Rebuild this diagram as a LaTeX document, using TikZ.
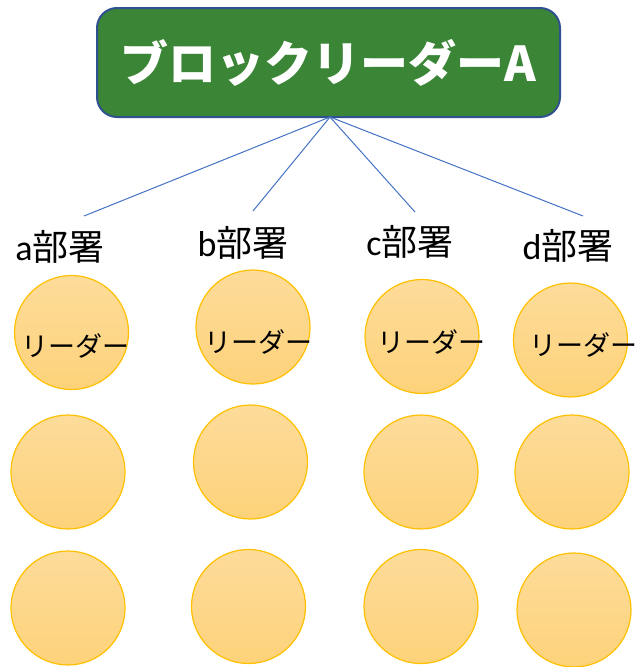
\documentclass[tikz,border=0pt]{standalone}
\usepackage{fontspec}
\newfontfamily\jp{Noto Sans CJK JP}
\newfontfamily\lat{Carlito}
\definecolor{boxgreen}{HTML}{3A8536}
\definecolor{boxedge}{HTML}{2F528F}
\definecolor{linkblue}{HTML}{4472C4}
\definecolor{circedge}{HTML}{FFC000}
\definecolor{circtop}{HTML}{FDDC9A}
\definecolor{circbot}{HTML}{FDD27A}
\tikzset{
  titlebox/.style={draw=boxedge, line width=2pt, fill=boxgreen, rounded corners=20pt,
    minimum width=463pt, minimum height=109pt, inner sep=0pt,
    text=white, font=\jp\bfseries\fontsize{48}{52}\selectfont},
  link/.style={draw=linkblue, line width=1pt},
  dept/.style={inner sep=0pt, font=\fontsize{36}{40}\selectfont},
  member/.style={circle, draw=circedge, line width=1.2pt, top color=circtop, bottom color=circbot,
    minimum size=114pt, inner sep=0pt},
  leadtxt/.style={inner sep=0pt, font=\jp\fontsize{27}{30}\selectfont}
}
\begin{document}
\begin{tikzpicture}[x=1pt,y=-1pt]
\useasboundingbox (0,0) rectangle (638,667);
\node[titlebox] (top) at (328.5,62.5) {ブロックリーダーA};
\coordinate (hub) at (330,117);
\coordinate (ea) at (84,216);
\coordinate (eb) at (253,211);
\coordinate (ec) at (415,212);
\coordinate (ed) at (583,216);
\draw[link] (hub) -- (ea);
\draw[link] (hub) -- (eb);
\draw[link] (hub) -- (ec);
\draw[link] (hub) -- (ed);
\node[dept] (la) at (60,247) {{\lat a}{\jp 部署}};
\node[dept] (lb) at (243,243) {{\lat b}{\jp 部署}};
\node[dept] (lc) at (410,242) {{\lat c}{\jp 部署}};
\node[dept] (ld) at (568,246) {{\lat d}{\jp 部署}};
% row 1
\node[member] (a1) at (71.5,332.5) {};
\node[member] (b1) at (253,327) {};
\node[member] (c1) at (422,336.5) {};
\node[member] (d1) at (570.5,340) {};
\node[leadtxt] (ta) at (75,346) {リーダー};
\node[leadtxt] (tb) at (258,342) {リーダー};
\node[leadtxt] (tc) at (431,342) {リーダー};
\node[leadtxt] (td) at (583,345) {リーダー};
% row 2
\node[member] (a2) at (68,472) {};
\node[member] (b2) at (250.5,462) {};
\node[member] (c2) at (421,472) {};
\node[member] (d2) at (572,472) {};
% row 3
\node[member] (a3) at (68,608) {};
\node[member] (b3) at (248.5,606.5) {};
\node[member] (c3) at (421,606.5) {};
\node[member] (d3) at (574,610) {};
\end{tikzpicture}
\end{document}
